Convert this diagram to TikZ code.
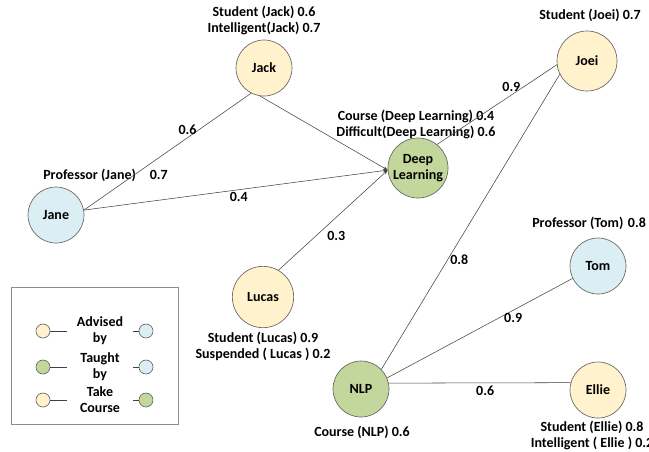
\documentclass[tikz,border=0pt]{standalone}
\usepackage{fontspec}
\setmainfont{Carlito}
\usetikzlibrary{arrows.meta,positioning}

\definecolor{ystud}{HTML}{FFF2CC}
\definecolor{bprof}{HTML}{DAEEF3}
\definecolor{gcour}{HTML}{C3D69B}

\tikzset{
  ent/.style={circle,draw=black!60,line width=0.5pt,minimum size=42pt,
              inner sep=0pt,align=center,font=\fontsize{10.5}{12}\selectfont\bfseries},
  stud/.style={ent,fill=ystud},
  prof/.style={ent,fill=bprof},
  cour/.style={ent,fill=gcour},
  attr/.style={align=center,inner sep=0pt,font=\fontsize{10.5}{12}\selectfont\bfseries},
  wt/.style={inner sep=2pt,font=\fontsize{10.5}{12}\selectfont\bfseries},
  rel/.style={draw=black!75,line width=0.4pt},
  key/.style={circle,draw=black!60,line width=0.5pt,minimum size=10.5pt,inner sep=0pt},
}

\begin{document}
\begin{tikzpicture}[x=0.75pt,y=-0.75pt,>={Stealth[length=3.5pt,width=2.5pt]}]
  \useasboundingbox (0,0) rectangle (649,451);
%
  \node[stud] (jack)  at (264,68)  {Jack} ;
  \node[prof] (jane)  at (56,215)  {Jane} ;
  \node[cour,minimum size=45pt] (dl) at (418,168) {Deep\\Learning} ;
  \node[stud,minimum size=46pt] (lucas) at (263,297) {Lucas} ;
  \node[stud,minimum size=45pt] (joei)  at (587,61)  {Joei} ;
  \node[prof] (tom)   at (598,266) {Tom} ;
  \node[cour] (nlp)   at (361,389) {NLP} ;
  \node[stud] (ellie) at (598,390) {Ellie} ;
%
  \node[attr] (jackat)  at (264,20)  {Student (Jack) 0.6\\Intelligent(Jack) 0.7} ;
  \node[attr,anchor=west] (janeat) at (43,175) {Professor (Jane) \hspace{8pt}0.7} ;
  \node[attr] (dlat)    at (416,124) {Course (Deep Learning) 0.4\\Difficult(Deep Learning) 0.6} ;
  \node[attr] (joeiat)  at (590,15)  {Student (Joei) 0.7} ;
  \node[attr,anchor=west] (tomat) at (532,223) {Professor (Tom) \hspace{1pt}0.8} ;
  \node[attr] (lucasat) at (263,346) {Student (Lucas) 0.9\\Suspended ( Lucas ) 0.2} ;
  \node[attr] (nlpat)   at (362,432) {Course (NLP) 0.6} ;
  \node[attr] (ellieat) at (592,435) {Student (Ellie) 0.8\\Intelligent ( Ellie ) 0.2} ;
%
  \draw [rel] (jane.10) -- (jack.243) node [wt,pos=0.62,above] {0.6} ;
  \draw [rel,->] (jane.10) -- (dl.184) node [wt,pos=0.51,below] {0.4} ;
  \draw [rel,->] (jack.262) -- (dl.184) ;
  \draw [rel,->] (lucas.60) -- (dl.184) node [wt,pos=0.42,below right] {0.3} ;
%
  \draw [rel] (joei.187) -- (dl.51) node [wt,pos=0.38,above] {0.9} ;
  \draw [rel] (joei.206) -- (nlp.44) node [wt,pos=0.63,right] {0.8} ;
  \draw [rel] (tom.206) -- (nlp.23) node [wt,pos=0.32,below] {0.9} ;
  \draw [rel] (nlp.12) -- (ellie.165) node [wt,pos=0.53,below] {0.6} ;
%
  \draw [draw=black!45,line width=0.5pt] (11,287) rectangle (178,424) ;
  \foreach \i/\yy/\lc/\rc/\txt in {1/331/ystud/bprof/{Advised\\by},
                                   2/367/gcour/bprof/{Taught\\by},
                                   3/400/ystud/gcour/{Take\\Course}} {
    \node[key,fill=\lc] (kl\i) at (43,\yy) {} ;
    \node[key,fill=\rc] (kr\i) at (146,\yy) {} ;
    \node[attr,minimum width=49.5pt] (kt\i) at (100,\yy) {\txt} ;
    \draw [rel] (kl\i) -- (kt\i.west |- kl\i) ;
    \draw [rel] (kt\i.east |- kr\i) -- (kr\i) ;
  }
%
\end{tikzpicture}
\end{document}
